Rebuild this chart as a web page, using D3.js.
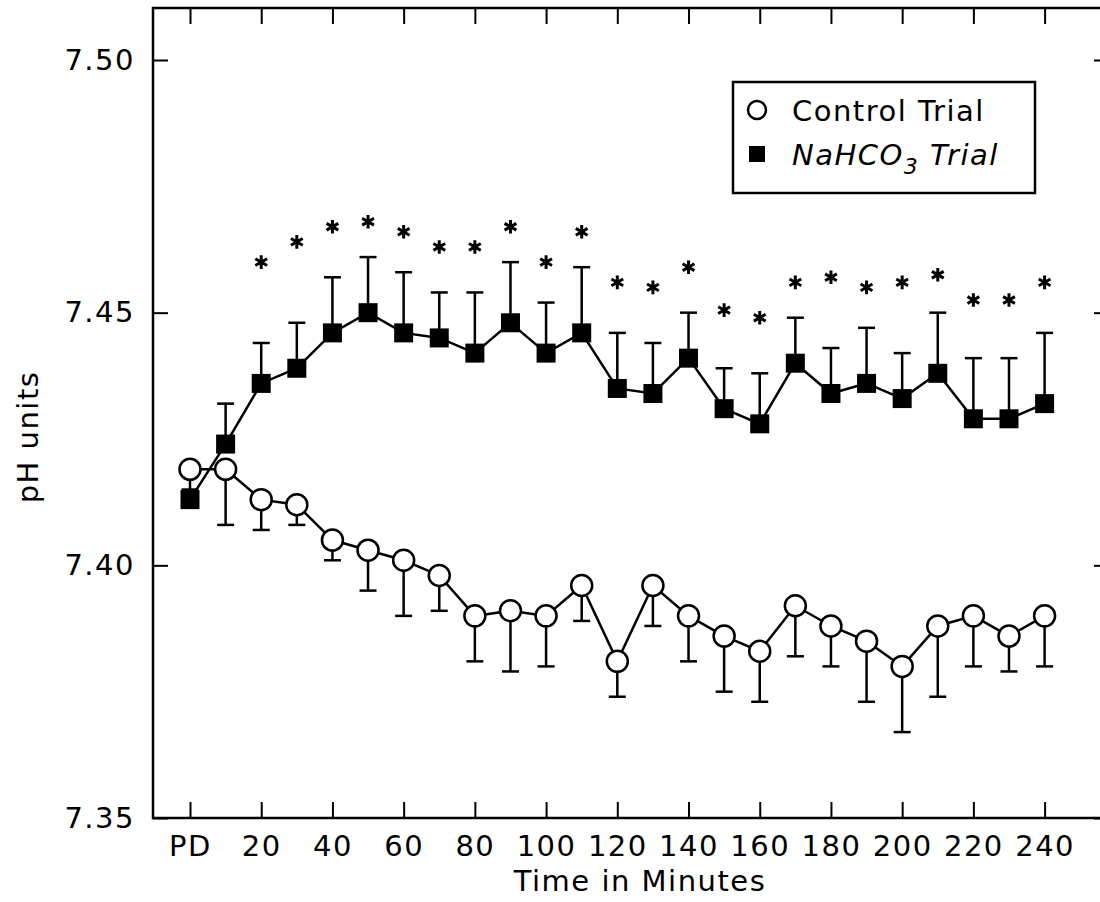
<!DOCTYPE html>
<html>
<head>
<meta charset="utf-8">
<script src="https://cdn.jsdelivr.net/npm/d3@7"></script>
<style>
  body { margin: 0; background: #fff; }
  text { font-family: "DejaVu Sans", sans-serif; fill: #000; }
</style>
</head>
<body>
<script>
      // minutes after the drink (0 = PD)
      const times = [0, 10, 20, 30, 40, 50, 60, 70, 80, 90, 100, 110, 120,
        130, 140, 150, 160, 170, 180, 190, 200, 210, 220, 230, 240];
      const tickTimes = [0, 20, 40, 60, 80, 100, 120, 140, 160, 180, 200, 220, 240];
      const tickLabels = ["PD", "20", "40", "60", "80", "100", "120", "140",
        "160", "180", "200", "220", "240"];
      const yTicks = [7.35, 7.40, 7.45, 7.50];

      const controlMean = [7.419, 7.419, 7.413, 7.412, 7.405, 7.403, 7.401, 7.398,
        7.390, 7.391, 7.390, 7.396, 7.381, 7.396, 7.390, 7.386, 7.383, 7.392,
        7.388, 7.385, 7.380, 7.388, 7.390, 7.386, 7.390];
      const controlSD = [0.004, 0.011, 0.006, 0.004, 0.004, 0.008, 0.011, 0.007,
        0.009, 0.012, 0.010, 0.007, 0.007, 0.008, 0.009, 0.011, 0.010, 0.010,
        0.008, 0.012, 0.013, 0.014, 0.010, 0.007, 0.010];

      const bicarbMean = [7.413, 7.424, 7.436, 7.439, 7.446, 7.450, 7.446, 7.445,
        7.442, 7.448, 7.442, 7.446, 7.435, 7.434, 7.441, 7.431, 7.428, 7.440,
        7.434, 7.436, 7.433, 7.438, 7.429, 7.429, 7.432];
      const bicarbSD = [0.001, 0.008, 0.008, 0.009, 0.011, 0.011, 0.012, 0.009,
        0.012, 0.012, 0.010, 0.013, 0.011, 0.010, 0.009, 0.008, 0.010, 0.009,
        0.009, 0.011, 0.009, 0.012, 0.012, 0.012, 0.014];

      // significance marks, 20..240 min, placed at these pH heights
      const starTimes = times.slice(2);
      const starLevel = [7.460, 7.464, 7.467, 7.468, 7.466, 7.463, 7.463, 7.467,
        7.460, 7.466, 7.456, 7.455, 7.459, 7.4505, 7.449, 7.456, 7.457, 7.455,
        7.456, 7.4575, 7.4525, 7.4525, 7.456];

      const width = 1100;
      const height = 902;
      const frame = { left: 153, top: 8, right: 1108, bottom: 818 };

      const x = d3.scaleLinear().domain([0, 240]).range([190, 1044.6]);
      const y = d3.scaleLinear().domain([7.35, 7.50]).range([frame.bottom, 60]);

      const svg = d3
        .select("body")
        .append("svg")
        .attr("width", width)
        .attr("height", height);

      const control = times.map((t, i) => ({ t: t, m: controlMean[i], sd: controlSD[i] }));
      const bicarb = times.map((t, i) => ({ t: t, m: bicarbMean[i], sd: bicarbSD[i] }));

      // axes (ticks point inward, frame drawn separately)
      svg
        .append("g")
        .attr("transform", "translate(0," + frame.bottom + ")")
        .call(
          d3.axisBottom(x)
            .tickValues(tickTimes)
            .tickFormat((d, i) => tickLabels[i])
            .tickSizeInner(-16)
            .tickSizeOuter(0)
            .tickPadding(17)
        )
        .call((g) => g.select(".domain").remove())
        .call((g) => g.selectAll("line").attr("stroke", "#000").attr("stroke-width", 2));

      svg
        .append("g")
        .attr("transform", "translate(0," + frame.top + ")")
        .call(d3.axisTop(x).tickValues(tickTimes).tickFormat("").tickSizeInner(-16).tickSizeOuter(0))
        .call((g) => g.select(".domain").remove())
        .call((g) => g.selectAll("line").attr("stroke", "#000").attr("stroke-width", 2));

      svg
        .append("g")
        .attr("transform", "translate(" + frame.left + ",0)")
        .call(
          d3.axisLeft(y)
            .tickValues(yTicks)
            .tickFormat(d3.format(".2f"))
            .tickSizeInner(-15)
            .tickSizeOuter(0)
            .tickPadding(18)
        )
        .call((g) => g.select(".domain").remove())
        .call((g) => g.selectAll("line").attr("stroke", "#000").attr("stroke-width", 2));

      svg
        .append("g")
        .attr("transform", "translate(" + frame.right + ",0)")
        .call(d3.axisRight(y).tickValues(yTicks).tickFormat("").tickSizeInner(-14).tickSizeOuter(0))
        .call((g) => g.select(".domain").remove())
        .call((g) => g.selectAll("line").attr("stroke", "#000").attr("stroke-width", 2));

      svg
        .selectAll(".tick text")
        .style("font-size", "29px")
        .style("letter-spacing", "1.5px")
        .attr("fill", "#000");

      svg
        .append("rect")
        .attr("x", frame.left)
        .attr("y", frame.top)
        .attr("width", frame.right - frame.left)
        .attr("height", frame.bottom - frame.top)
        .attr("fill", "none")
        .attr("stroke", "#000")
        .attr("stroke-width", 2.5);

      // axis titles
      svg
        .append("text")
        .attr("x", 640)
        .attr("y", 891)
        .attr("text-anchor", "middle")
        .style("font-size", "29px")
        .style("letter-spacing", "1.5px")
        .text("Time in Minutes");

      svg
        .append("text")
        .attr("transform", "translate(38,437) rotate(-90)")
        .attr("text-anchor", "middle")
        .style("font-size", "29px")
        .style("letter-spacing", "1.5px")
        .text("pH units");

      const line = d3
        .line()
        .x((d) => x(d.t))
        .y((d) => y(d.m));

      function errorBars(data, dir) {
        const g = svg.append("g").attr("stroke", "#000").attr("stroke-width", 2.5);
        g.selectAll("line.stem")
          .data(data)
          .enter()
          .append("line")
          .attr("x1", (d) => x(d.t))
          .attr("x2", (d) => x(d.t))
          .attr("y1", (d) => y(d.m))
          .attr("y2", (d) => y(d.m + dir * d.sd));
        g.selectAll("line.cap")
          .data(data)
          .enter()
          .append("line")
          .attr("x1", (d) => x(d.t) - 8.5)
          .attr("x2", (d) => x(d.t) + 8.5)
          .attr("y1", (d) => y(d.m + dir * d.sd))
          .attr("y2", (d) => y(d.m + dir * d.sd));
      }

      // control trial
      errorBars(control, -1);
      svg
        .append("path")
        .datum(control)
        .attr("d", line)
        .attr("fill", "none")
        .attr("stroke", "#000")
        .attr("stroke-width", 2.5);
      svg
        .append("g")
        .selectAll("circle")
        .data(control)
        .enter()
        .append("circle")
        .attr("cx", (d) => x(d.t))
        .attr("cy", (d) => y(d.m))
        .attr("r", 10.5)
        .attr("fill", "#fff")
        .attr("stroke", "#000")
        .attr("stroke-width", 2.5);

      // NaHCO3 trial
      errorBars(bicarb, 1);
      svg
        .append("path")
        .datum(bicarb)
        .attr("d", line)
        .attr("fill", "none")
        .attr("stroke", "#000")
        .attr("stroke-width", 2.5);
      svg
        .append("g")
        .selectAll("rect")
        .data(bicarb)
        .enter()
        .append("rect")
        .attr("x", (d) => x(d.t) - 9.5)
        .attr("y", (d) => y(d.m) - 9.5)
        .attr("width", 19)
        .attr("height", 19)
        .attr("fill", "#000");

      // asterisks
      const star = d3.symbol().type(d3.symbolAsterisk).size(130);
      svg
        .append("g")
        .selectAll("path")
        .data(starTimes)
        .enter()
        .append("path")
        .attr("d", star)
        .attr("transform", (d, i) => "translate(" + x(d) + "," + y(starLevel[i]) + ")")
        .attr("fill", "none")
        .attr("stroke", "#000")
        .attr("stroke-width", 3);

      // legend
      const legend = svg.append("g");
      legend
        .append("rect")
        .attr("x", 733)
        .attr("y", 82)
        .attr("width", 302)
        .attr("height", 111)
        .attr("fill", "#fff")
        .attr("stroke", "#000")
        .attr("stroke-width", 2.5);
      legend
        .append("circle")
        .attr("cx", 757)
        .attr("cy", 110)
        .attr("r", 9)
        .attr("fill", "#fff")
        .attr("stroke", "#000")
        .attr("stroke-width", 2.5);
      legend
        .append("rect")
        .attr("x", 749)
        .attr("y", 146)
        .attr("width", 16)
        .attr("height", 16)
        .attr("fill", "#000");
      legend
        .append("text")
        .attr("x", 792)
        .attr("y", 121)
        .style("font-size", "29px")
        .style("letter-spacing", "1.5px")
        .text("Control Trial");
      const t2 = legend
        .append("text")
        .attr("x", 792)
        .attr("y", 165)
        .style("font-size", "29px")
        .style("font-style", "italic")
        .style("letter-spacing", "1.5px");
      t2.append("tspan").text("NaHCO");
      t2.append("tspan").attr("dy", 9).style("font-size", "22px").text("3");
      t2.append("tspan").attr("dy", -9).text(" Trial");
</script>
</body>
</html>
